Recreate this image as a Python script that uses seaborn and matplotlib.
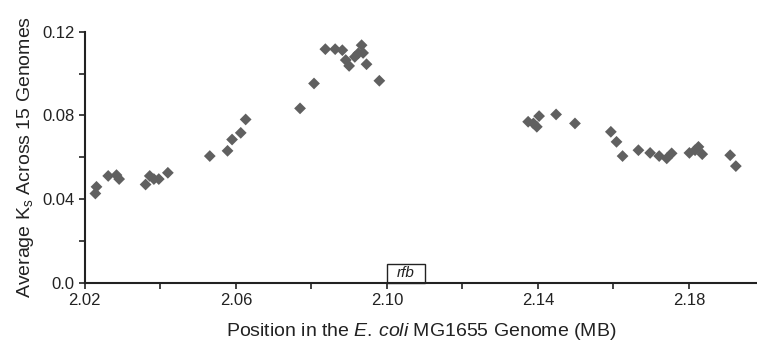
import pandas as pd
import matplotlib.pyplot as plt
import seaborn as sns
import numpy as np

# position on the genome (MB) and average Ks across 15 genomes
position = [2.0228, 2.0231, 2.0262, 2.0284, 2.0291, 2.0361, 2.0372, 2.0383, 2.0396, 2.0420,
            2.0531, 2.0578, 2.0590, 2.0613, 2.0626, 2.0770, 2.0807, 2.0837, 2.0863, 2.0882,
            2.0891, 2.0900, 2.0915, 2.0924, 2.0933, 2.0937, 2.0946, 2.0980,
            2.1374, 2.1388, 2.1397, 2.1403, 2.1448, 2.1498, 2.1593, 2.1608, 2.1624, 2.1666,
            2.1697, 2.1721, 2.1741, 2.1754, 2.1801, 2.1816, 2.1825, 2.1835, 2.1909, 2.1924]
ks = [0.0427, 0.0459, 0.0511, 0.0515, 0.0496, 0.0470, 0.0511, 0.0496, 0.0496, 0.0526,
      0.0606, 0.0631, 0.0685, 0.0717, 0.0781, 0.0834, 0.0953, 0.1117, 0.1117, 0.1112,
      0.1065, 0.1037, 0.1080, 0.1097, 0.1136, 0.1099, 0.1045, 0.0966,
      0.0770, 0.0762, 0.0746, 0.0797, 0.0805, 0.0762, 0.0722, 0.0674, 0.0606, 0.0634,
      0.0621, 0.0606, 0.0595, 0.0619, 0.0621, 0.0634, 0.0650, 0.0615, 0.0610, 0.0558]

x_ticks = [2.02, 2.04, 2.06, 2.08, 2.10, 2.12, 2.14, 2.16, 2.18]
x_labels = ['2.02', '', '2.06', '', '2.10', '', '2.14', '', '2.18']
y_ticks = [0.0, 0.02, 0.04, 0.06, 0.08, 0.10, 0.12]
y_labels = ['0.0', '', '0.04', '', '0.08', '', '0.12']

# rfb locus box
rfb_start, rfb_end, rfb_height = 2.100, 2.110, 0.0092

df = pd.DataFrame({'pos': position, 'ks': ks})

sns.set_style('ticks')
plt.rcParams['font.family'] = ['Liberation Sans', 'DejaVu Sans']
plt.rcParams['mathtext.fontset'] = 'custom'
plt.rcParams['mathtext.rm'] = 'Liberation Sans'
plt.rcParams['mathtext.it'] = 'Liberation Sans:italic'

fig = plt.figure(figsize=(7.57, 3.42), dpi=100)
ax = fig.add_axes([0.112, 0.173, 0.888, 0.734])

sns.scatterplot(data=df, x='pos', y='ks', marker='D', s=36, color='#606060',
                edgecolor='none', ax=ax, zorder=3)

ax.add_patch(plt.Rectangle((rfb_start, 0), rfb_end - rfb_start, rfb_height,
                           facecolor='white', edgecolor='#222222', lw=1.0, zorder=2,
                           clip_on=False))
ax.text((rfb_start + rfb_end) / 2, rfb_height / 2, 'rfb', style='italic',
        ha='center', va='center', fontsize=11, color='#222222')

ax.set_xlim(2.02, 2.198)
ax.set_ylim(0, 0.12)
ax.set_xticks(x_ticks)
ax.set_xticklabels(x_labels)
ax.set_yticks(y_ticks)
ax.set_yticklabels(y_labels)
ax.tick_params(direction='out', length=4, width=1.2, labelsize=12, colors='#222222')

sns.despine(ax=ax)
for side in ['left', 'bottom']:
    ax.spines[side].set_linewidth(1.5)
    ax.spines[side].set_color('#222222')

ax.set_xlabel(r'Position in the $\mathit{E.\,coli}$ MG1655 Genome (MB)', fontsize=14,
              color='#222222', labelpad=9)
ax.set_ylabel(r'Average K$_\mathrm{s}$ Across 15 Genomes', fontsize=14,
              color='#222222', labelpad=4)

fig.savefig('out.png', dpi=100)
